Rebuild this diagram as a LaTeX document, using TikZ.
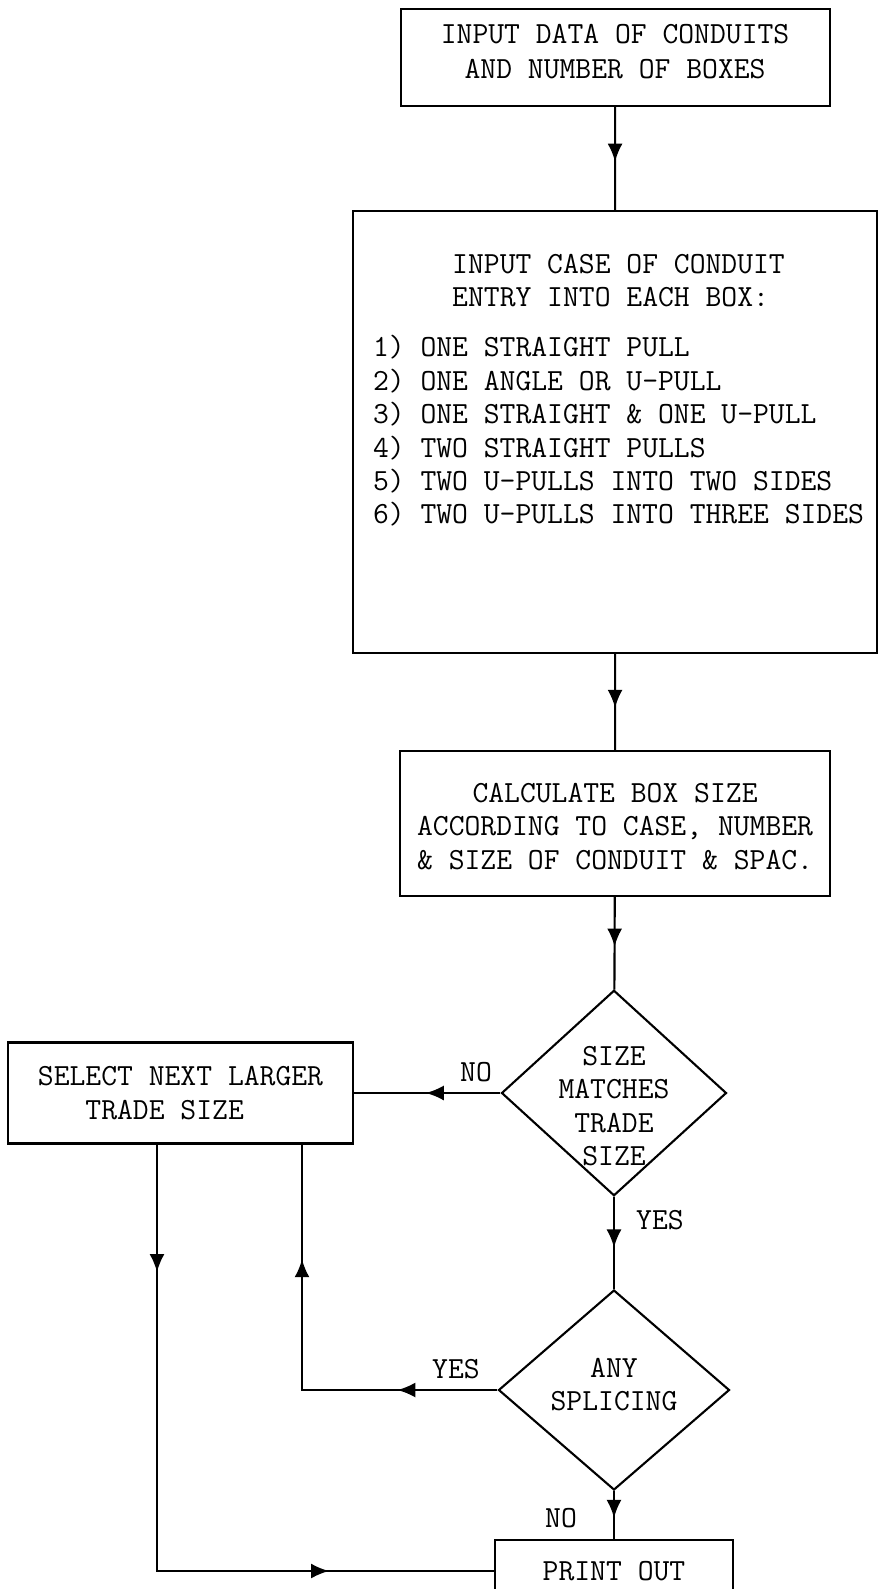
\documentclass[tikz,border=0pt]{standalone}
\usepackage{fontspec}
\usetikzlibrary{arrows.meta,shapes.geometric,decorations.markings}

\newcommand{\flowfont}{\ttfamily\fontsize{17.5pt}{19pt}\selectfont}

\tikzset{
  box/.style={draw,line width=1.2pt,inner sep=0pt,font=\flowfont},
  decision/.style={draw,diamond,line width=1.2pt,inner sep=0pt,font=\flowfont,
      text width=30mm,align=flush center},
  lbl/.style={inner sep=0pt,font=\flowfont},
  line/.style={line width=1.2pt},
  arr/.style={postaction={decorate,decoration={markings,
      mark=at position #1 with {\arrow{Latex[length=3.6mm,width=3mm]}}}}}
}

\begin{document}
\begin{tikzpicture}[x=0.2mm,y=-0.2mm]
\useasboundingbox (0,0) rectangle (878,1589);

\node[box,anchor=north west,text width=85.8mm,text height=6.9mm,text depth=12.5mm,align=flush center] (data) at (399.5,8)
  {INPUT DATA OF CONDUITS\\[0.4mm]AND NUMBER OF BOXES\par};

\node[box,anchor=north west,text width=104.8mm,text height=12.4mm,text depth=76mm,align=flush left] (cases) at (352,210)
  {\spaceskip=0pt \xspaceskip=0pt \leftskip=4mm
   \hphantom{XXXXX}INPUT CASE OF CONDUIT\\
   \hphantom{XXXXX}ENTRY INTO EACH BOX:\\[3.4mm]
   1) ONE STRAIGHT PULL\\
   2) ONE ANGLE OR U-PULL\\
   3) ONE STRAIGHT \& ONE U-PULL\\
   4) TWO STRAIGHT PULLS\\
   5) TWO U-PULLS INTO TWO SIDES\\
   6) TWO U-PULLS INTO THREE SIDES\par};

\node[box,anchor=north west,text width=86mm,text height=10.3mm,text depth=18.7mm,align=flush center] (calc) at (399,750)
  {CALCULATE BOX SIZE\\ACCORDING TO CASE, NUMBER\\\& SIZE OF CONDUIT \& SPAC.\par};

\node[decision,minimum width=45mm,minimum height=39.4mm,text height=0mm,text depth=11.1mm] (match) at (614,1093)
  {SIZE\\MATCHES\\TRADE\\SIZE\par};
\node[decision,minimum width=46.2mm,minimum height=40mm,text height=0mm,text depth=5.1mm] (splice) at (614,1390)
  {ANY\\SPLICING\par};

\node[box,minimum width=69mm,minimum height=20.2mm,align=left] (larger) at (180.5,1093)
  {SELECT NEXT LARGER\\\hphantom{XXX}TRADE SIZE};

\node[box,minimum width=47.6mm,minimum height=12.4mm] (print) at (614,1571) {PRINT OUT};

\coordinate (down) at (157,1571);
\coordinate (back) at (302,1390);

\draw[line,arr=0.53] (data) -- (cases);
\draw[line,arr=0.56] (cases) -- (calc);
\draw[line,arr=0.535] (calc) -- (match);
\draw[line,arr=0.55] (match) -- (splice);
\draw[line,arr=0.56] (splice) -- (print);

\draw[line,arr=0.51] (match) -- (larger);
\draw[line,arr=0.227,arr=0.74] (splice) -- (back) -- (back |- larger.south);
\draw[line,arr=0.167,arr=0.784] (larger.south -| down) -- (down) -- (print);

\node[lbl] (no1) at (476,1072) {NO};
\node[lbl] (yes1) at (660,1220) {YES};
\node[lbl] (yes2) at (456,1369) {YES};
\node[lbl] (no2) at (561,1518) {NO};

\end{tikzpicture}
\end{document}
